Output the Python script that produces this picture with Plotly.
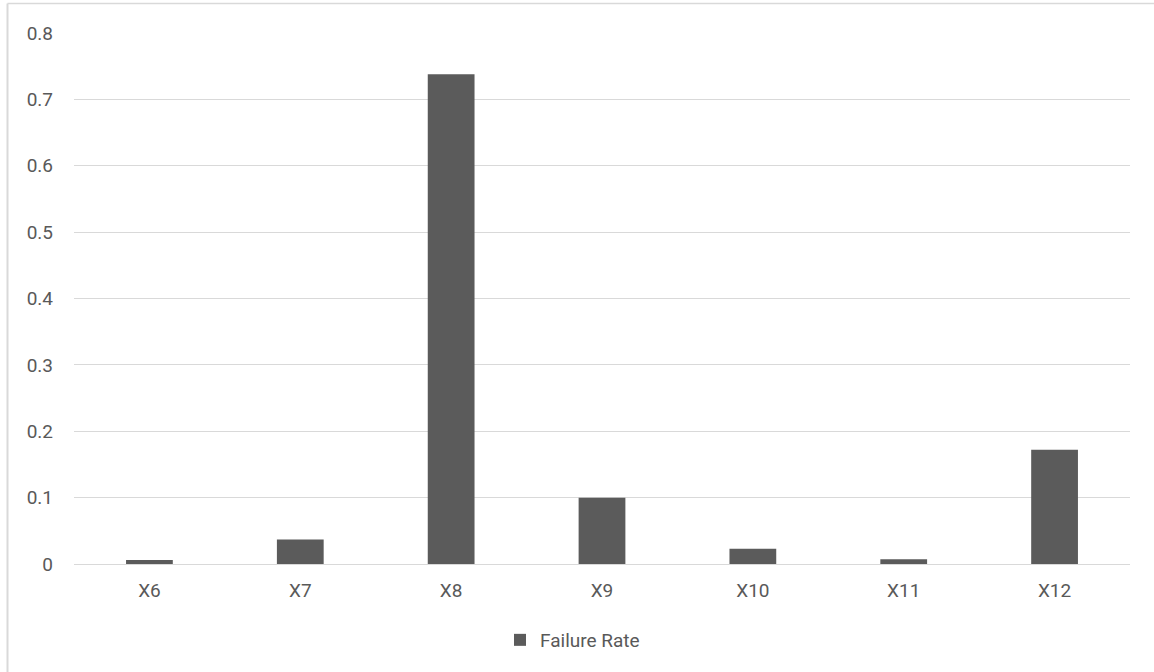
import plotly.graph_objects as go

categories = ["X6", "X7", "X8", "X9", "X10", "X11", "X12"]
failure_rate = [0.006, 0.037, 0.738, 0.100, 0.023, 0.007, 0.172]
y_ticks = [0, 0.1, 0.2, 0.3, 0.4, 0.5, 0.6, 0.7, 0.8]
y_tick_labels = ["0", "0.1", "0.2", "0.3", "0.4", "0.5", "0.6", "0.7", "0.8"]
series_name = "Failure Rate"

W, H = 1154, 672
L, R, T, B = 74, 24, 33, 108
PW, PH = W - L - R, H - T - B

fig = go.Figure()
fig.add_trace(go.Bar(
    x=categories, y=failure_rate, name=series_name,
    marker=dict(color="#5B5B5B", line=dict(width=0)),
    width=0.31,
))

fig.update_layout(
    width=W, height=H,
    margin=dict(l=L, r=R, t=T, b=B),
    paper_bgcolor="white", plot_bgcolor="white",
    font=dict(family="Roboto, Liberation Sans, sans-serif", size=19, color="#595959"),
    showlegend=True,
    legend=dict(orientation="h", x=(500 - L) / PW, xanchor="left",
                y=(H - B - 640) / PH, yanchor="middle",
                font=dict(size=19, color="#595959")),
)
fig.update_yaxes(range=[0, 0.8], tickvals=y_ticks, ticktext=y_tick_labels,
                 showgrid=True, gridcolor="#D9D9D9", gridwidth=1,
                 zeroline=False, showline=False, ticks="",
                 ticklabelstandoff=20)
fig.update_xaxes(showgrid=False, showline=True, linecolor="#D9D9D9", linewidth=1,
                 ticks="", ticklabelstandoff=9)

# outer chart frame (left and top edges visible)
fx = (7.5 - L) / PW
fy = (H - B - 3.5) / PH
fig.add_shape(type="line", xref="paper", yref="paper",
              x0=fx, x1=fx, y0=fy, y1=(H - B - 700) / PH,
              line=dict(color="#D9D9D9", width=2))
fig.add_shape(type="line", xref="paper", yref="paper",
              x0=fx, x1=(1200 - L) / PW, y0=fy, y1=fy,
              line=dict(color="#D9D9D9", width=1.5))

fig.write_html("out.html", config={"displayModeBar": False},
               post_script="document.body.style.margin='0px';document.body.style.overflow='hidden';")
